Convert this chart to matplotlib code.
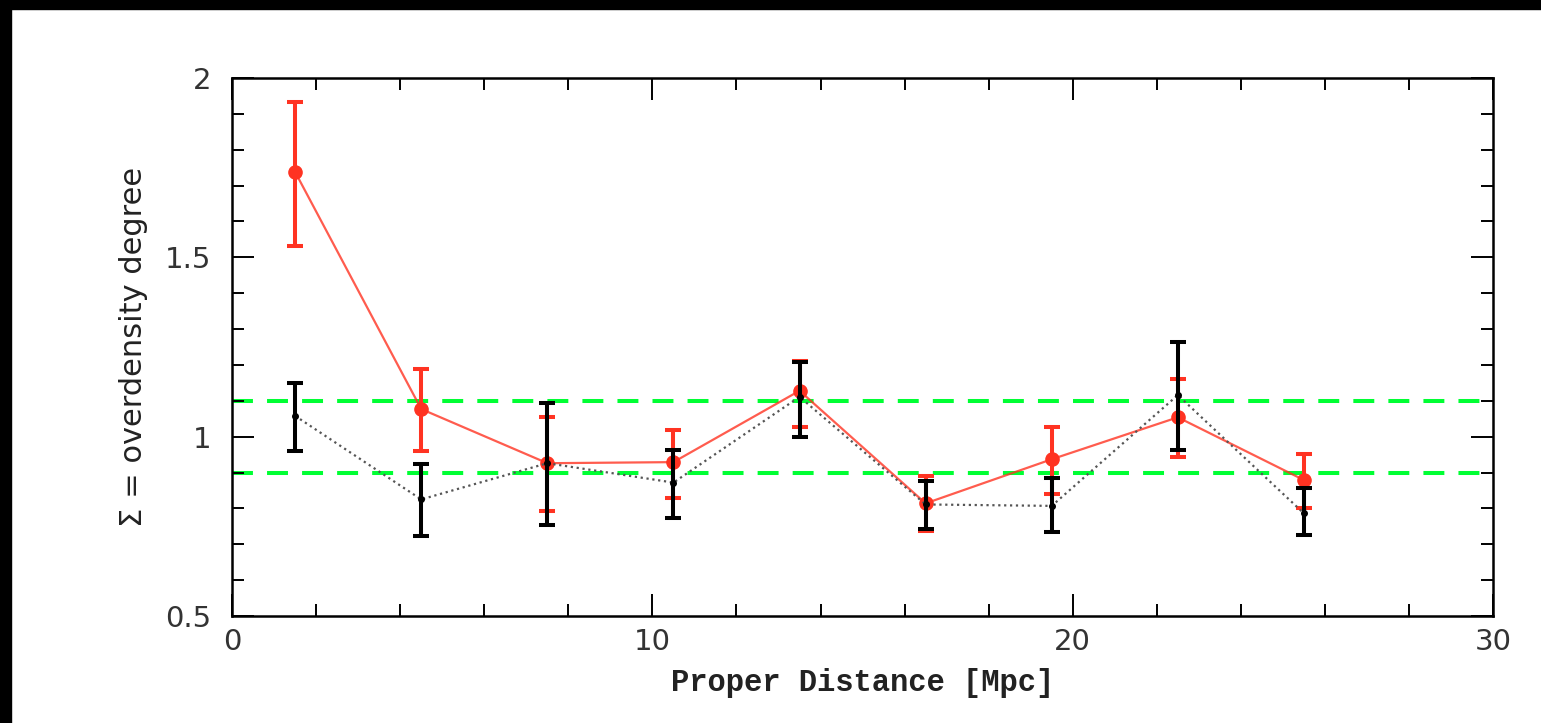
import numpy as np
import matplotlib
matplotlib.use("Agg")
import matplotlib.pyplot as plt
from matplotlib.patches import Rectangle
from matplotlib.ticker import MultipleLocator

# distancias (Mpc) de los bins
dist = [1.5, 4.5, 7.5, 10.5, 13.5, 16.5, 19.5, 22.5, 25.5]

# serie roja (linea continua)
red_y = [1.738, 1.077, 0.926, 0.929, 1.128, 0.814, 0.937, 1.054, 0.879]
red_lo = [1.531, 0.961, 0.793, 0.830, 1.028, 0.737, 0.840, 0.943, 0.800]
red_hi = [1.933, 1.189, 1.056, 1.019, 1.212, 0.890, 1.028, 1.160, 0.952]

# serie negra (linea punteada)
blk_y = [1.058, 0.825, 0.926, 0.872, 1.111, 0.811, 0.807, 1.116, 0.786]
blk_lo = [0.961, 0.724, 0.753, 0.772, 0.999, 0.743, 0.735, 0.962, 0.725]
blk_hi = [1.150, 0.924, 1.093, 0.962, 1.207, 0.876, 0.886, 1.263, 0.858]

# niveles de referencia
levels = [0.9, 1.1]

red = '#ff3322'
green = '#00ff33'

fig = plt.figure(figsize=(15.41, 7.23), dpi=100)
ax = fig.add_axes([0.1506, 0.148, 0.9689 - 0.1506, 0.8921 - 0.148])

for lv in levels:
    ax.axhline(lv, color=green, lw=2.9, dashes=(5.2, 3.5), zorder=1)

r_err = [np.array(red_y) - np.array(red_lo), np.array(red_hi) - np.array(red_y)]
ax.plot(dist, red_y, '-', color=red, lw=1.6, alpha=0.8, zorder=2)
ax.errorbar(dist, red_y, yerr=r_err, fmt='o', color=red, ms=9.5,
            elinewidth=2.9, capsize=6, capthick=2.9, zorder=3)

b_err = [np.array(blk_y) - np.array(blk_lo), np.array(blk_hi) - np.array(blk_y)]
ax.plot(dist, blk_y, ':', color='#555555', lw=1.6, zorder=4)
ax.errorbar(dist, blk_y, yerr=b_err, fmt='o', color='black', ms=4,
            elinewidth=2.9, capsize=6, capthick=2.9, zorder=5)

ax.set_xlim(0, 30)
ax.set_ylim(0.5, 2)
ax.xaxis.set_major_locator(MultipleLocator(10))
ax.xaxis.set_minor_locator(MultipleLocator(2))
ax.yaxis.set_major_locator(MultipleLocator(0.5))
ax.yaxis.set_minor_locator(MultipleLocator(0.1))
ax.set_xticks([0, 10, 20, 30])
ax.set_xticklabels(['0', '10', '20', '30'])
ax.set_yticks([0.5, 1, 1.5, 2])
ax.set_yticklabels(['0.5', '1', '1.5', '2'])

ax.tick_params(which='both', direction='in', top=True, right=True,
               width=1.4, colors='black', labelcolor='#333333', labelsize=21)
ax.tick_params(which='major', length=16)
ax.tick_params(which='minor', length=8.5)
ax.tick_params(axis='y', which='major', pad=15)
ax.tick_params(axis='x', which='major', pad=9)
for s in ax.spines.values():
    s.set_linewidth(1.8)

ax.set_xlabel('Proper Distance [Mpc]', family='Liberation Mono', fontweight='bold',
              fontsize=22, color='#222222', labelpad=8)
ax.set_ylabel('Σ = overdensity degree', fontsize=22, color='#222222', labelpad=12)

# marco negro arriba e izquierda
fig.patches.append(Rectangle((0, 1 - 9 / 723), 1, 9 / 723, transform=fig.transFigure,
                             color='black', zorder=10))
fig.patches.append(Rectangle((0, 0), 11 / 1541, 1, transform=fig.transFigure,
                             color='black', zorder=10))

fig.savefig('out.png', dpi=100)
